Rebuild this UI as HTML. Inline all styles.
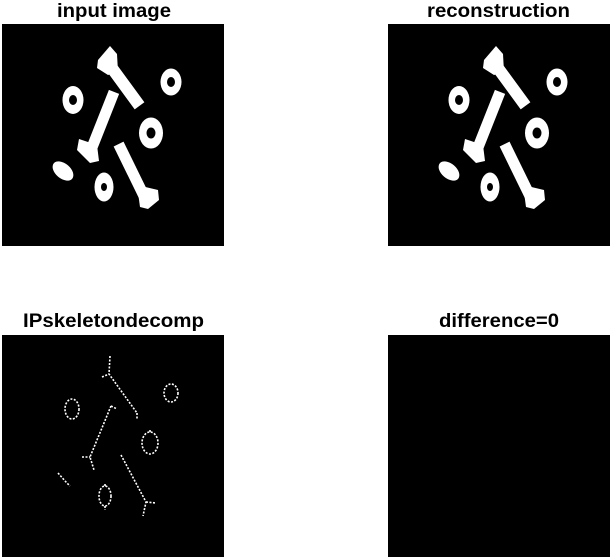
<!DOCTYPE html>
<html><head><meta charset="utf-8"><style>
html,body{margin:0;padding:0;background:#fff;width:612px;height:560px;overflow:hidden}
svg{display:block}
text{font-family:"Liberation Sans",Arial,sans-serif;font-weight:bold;font-size:19px;fill:#000}
</style></head><body>
<svg width="612" height="560" viewBox="0 0 612 560" xmlns="http://www.w3.org/2000/svg">
<defs>
<g id="shapes" fill="#fff">
  <line x1="109" y1="64" x2="136" y2="101" stroke="#fff" stroke-width="12" stroke-linecap="square"/>
  <polygon points="110,46 117,54 118,72 108,75 97,68 98,60"/>
  <line x1="112" y1="97" x2="91" y2="150" stroke="#fff" stroke-width="11" stroke-linecap="square"/>
  <polygon points="79,139 97,145 99,161 90,163 77,150"/>
  <line x1="121" y1="149" x2="143" y2="194" stroke="#fff" stroke-width="11" stroke-linecap="square"/>
  <polygon points="137,185 158,190 159,200 148,209 140,207"/>
  <ellipse cx="73" cy="100" rx="10.5" ry="14"/>
  <ellipse cx="171" cy="82" rx="10.5" ry="13.5"/>
  <ellipse cx="151" cy="133" rx="12" ry="15.5"/>
  <ellipse cx="104" cy="187" rx="9.5" ry="14.5"/>
  <ellipse cx="63" cy="171" rx="12" ry="7.5" transform="rotate(40 63 171)"/>
  <g fill="#000">
    <ellipse cx="73" cy="100" rx="4" ry="5"/>
    <ellipse cx="171" cy="82" rx="4" ry="5"/>
    <ellipse cx="151" cy="133" rx="4.5" ry="5.5"/>
    <ellipse cx="104" cy="187" rx="3" ry="4"/>
  </g>
</g>
</defs>
<text x="57" y="17" textLength="114" lengthAdjust="spacingAndGlyphs">input image</text>
<text x="427" y="17" textLength="143" lengthAdjust="spacingAndGlyphs">reconstruction</text>
<text x="23" y="327" textLength="181" lengthAdjust="spacingAndGlyphs">IPskeletondecomp</text>
<text x="439" y="327" textLength="120" lengthAdjust="spacingAndGlyphs">difference=0</text>
<rect x="2" y="24" width="222" height="222" fill="#000"/>
<rect x="388" y="24" width="222" height="222" fill="#000"/>
<rect x="2" y="335" width="222" height="222" fill="#000"/>
<rect x="388" y="335" width="222" height="222" fill="#000"/>
<use href="#shapes"/>
<use href="#shapes" transform="translate(386 0)"/>
<g fill="none" stroke="#fff" stroke-width="1.6" stroke-dasharray="2 1.5">
  <ellipse cx="72" cy="409" rx="7" ry="10"/>
  <ellipse cx="171" cy="393" rx="7" ry="9"/>
  <ellipse cx="150" cy="443" rx="8" ry="11"/>
  <ellipse cx="105" cy="496" rx="6" ry="10"/>
  <polyline points="110,356 109,374 137,413"/>
  <line x1="102" y1="377" x2="109" y2="374"/>
  <line x1="137" y1="413" x2="137" y2="420"/>
  <polyline points="111,406 90,457 94,470"/>
  <line x1="82" y1="457" x2="90" y2="457"/>
  <line x1="111" y1="406" x2="117" y2="409"/>
  <polyline points="121,455 146,502 143,516"/>
  <line x1="146" y1="502" x2="156" y2="503"/>
  <polyline points="58,473 66,482 70,486"/>
  <line x1="105" y1="486" x2="105" y2="483"/>
  <line x1="105" y1="506" x2="105" y2="510"/>
  <line x1="150" y1="432" x2="150" y2="429"/>
</g>
</svg>
</body></html>
